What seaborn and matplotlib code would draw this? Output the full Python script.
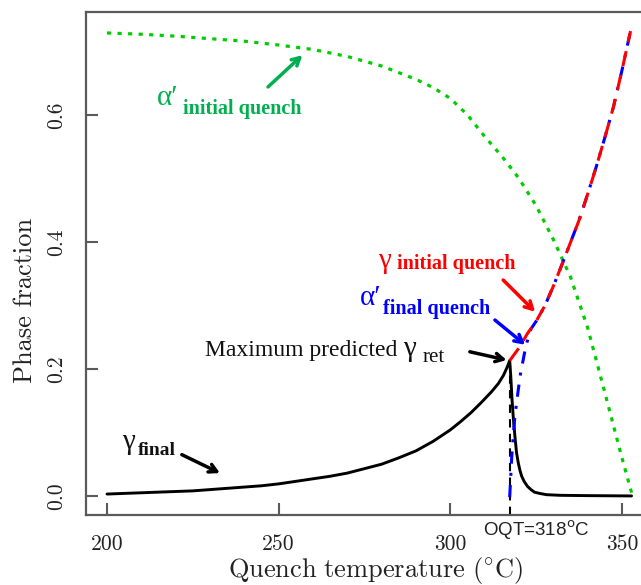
import matplotlib
matplotlib.use("Agg")
import matplotlib.pyplot as plt
import seaborn as sns
import pandas as pd

# ---------------- data ----------------
gfin_x = [200, 205, 210, 215, 220, 225, 230, 235, 240, 245, 250, 255, 260, 265,
          270, 275, 280, 285, 290, 295, 300, 303, 306, 309, 312, 314, 315.5,
          316.5, 317.3, 317.6, 318.0, 318.4, 318.8, 319.3, 319.8, 320.3, 320.8,
          321.5, 322.5, 323.5, 324.5, 326, 328, 332, 340, 352.8]
gfin_y = [0.003, 0.004, 0.005, 0.006, 0.007, 0.008, 0.010, 0.012, 0.014, 0.016,
          0.019, 0.023, 0.027, 0.031, 0.036, 0.043, 0.050, 0.060, 0.071, 0.086,
          0.104, 0.117, 0.131, 0.147, 0.164, 0.177, 0.190, 0.202, 0.213, 0.190,
          0.150, 0.120, 0.095, 0.068, 0.052, 0.040, 0.031, 0.023, 0.015, 0.010,
          0.006, 0.004, 0.002, 0.001, 0.0005, 0.0]

alpha_init_x = [200, 210, 220, 230, 240, 250, 260, 270, 280, 290, 295, 300, 305,
                310, 315, 320, 325, 330, 335, 340, 345, 350, 352.8]
alpha_init_y = [0.729, 0.727, 0.724, 0.720, 0.716, 0.710, 0.703, 0.692, 0.677,
                0.656, 0.643, 0.626, 0.600, 0.566, 0.535, 0.500, 0.457, 0.404,
                0.345, 0.265, 0.163, 0.060, 0.005]

gamma_init_x = [317.3, 320, 322.5, 325, 327.5, 330, 332.5, 335, 337.5, 340,
                342.5, 345, 347.5, 350, 352.5]
gamma_init_y = [0.213, 0.233, 0.256, 0.275, 0.299, 0.330, 0.364, 0.399, 0.434,
                0.475, 0.518, 0.564, 0.612, 0.670, 0.732]

alpha_fin_x = [317.3, 317.9, 318.8, 320.3, 322.0, 323.5, 325, 327.5, 330, 332.5,
               335, 337.5, 340, 342.5, 345, 347.5, 350, 352.5]
alpha_fin_y = [-0.002, 0.062, 0.125, 0.188, 0.236, 0.263, 0.275, 0.299, 0.330,
               0.364, 0.399, 0.434, 0.475, 0.518, 0.564, 0.612, 0.670, 0.732]

oqt = 317.3
oqt_line_y = [-0.030, 0.213]

x_ticks = [200, 250, 300, 350]
y_ticks = [0.0, 0.2, 0.4, 0.6]
x_ticklabels = ["200", "250", "300", "350"]
y_ticklabels = ["0.0", "0.2", "0.4", "0.6"]

# ---------------- figure ----------------
sns.set_style("white")
W, H = 641, 585
fig = plt.figure(figsize=(W / 100, H / 100), dpi=100)
ax = fig.add_axes([86 / W, 70 / H, 1 - 86 / W, (515 - 12) / H])

GREEN_LINE = "#00cd00"
GREEN_TXT = "#00b050"
RED = "#ff0000"
BLUE = "#0000ff"

df_gf = pd.DataFrame({"x": gfin_x, "y": gfin_y})
df_ai = pd.DataFrame({"x": alpha_init_x, "y": alpha_init_y})
df_gi = pd.DataFrame({"x": gamma_init_x, "y": gamma_init_y})
df_af = pd.DataFrame({"x": alpha_fin_x, "y": alpha_fin_y})
df_v = pd.DataFrame({"x": [oqt, oqt], "y": oqt_line_y})

sns.lineplot(data=df_v, x="x", y="y", ax=ax, sort=False, estimator=None,
             color="black", lw=1.5, linestyle=(0, (4, 3)))
sns.lineplot(data=df_ai, x="x", y="y", ax=ax, sort=False, estimator=None,
             color=GREEN_LINE, lw=2.3, linestyle=(0, (1.3, 2.0)))
sns.lineplot(data=df_gf, x="x", y="y", ax=ax, sort=False, estimator=None,
             color="black", lw=2.1, solid_joinstyle="round")
sns.lineplot(data=df_af, x="x", y="y", ax=ax, sort=False, estimator=None,
             color=BLUE, lw=2.2, linestyle=(4, (1, 3, 4, 3)))
sns.lineplot(data=df_gi, x="x", y="y", ax=ax, sort=False, estimator=None,
             color=RED, lw=2.2, linestyle=(0, (5, 3)))

ax.set_xlim(193.88, 355.55)
ax.set_ylim(-0.030, 0.762)

ax.set_xticks(x_ticks)
ax.set_xticklabels(x_ticklabels, fontfamily="cmr10", fontsize=15.5)
ax.set_yticks(y_ticks)
ax.set_yticklabels(y_ticklabels, fontfamily="cmr10", fontsize=15.5,
                   rotation=90, va="center")
ax.tick_params(bottom=True, left=True, top=False, right=False,
               direction="in", length=8.5, width=1.5, color="#5a5a5a", pad=14,
               labelcolor="#222222")
for s in ["left", "bottom", "top"]:
    ax.spines[s].set_color("#5a5a5a")
    ax.spines[s].set_linewidth(1.6)
ax.spines["right"].set_visible(False)
ax.set_xlabel("")
ax.set_ylabel("")

plt.rcParams["mathtext.fontset"] = "cm"
fig.text(376 / W, 1 - 570 / H, r"$\mathrm{Quench\ temperature\ (^{\circ}C)}$",
         ha="center", va="center", fontsize=19, color="#222222")
fig.text(25 / W, 1 - 300 / H, "Phase fraction", family="cmr10", rotation=90,
         ha="center", va="center", fontsize=19, color="#222222")

SERIF = ["Liberation Serif", "DejaVu Serif"]

def lbl(x, y, s, color, size, weight="normal"):
    ax.text(x, y, s, color=color, fontsize=size, family=SERIF, weight=weight,
            ha="left", va="baseline", clip_on=False)

def arrow(tail, head, color):
    ax.annotate("", xy=head, xytext=tail,
                arrowprops=dict(arrowstyle="->,head_length=0.55,head_width=0.3",
                                lw=2.5, color=color, shrinkA=0, shrinkB=0))

# alpha' initial quench
lbl(214.6, 0.616, "α′", GREEN_TXT, 21)
lbl(222.1, 0.602, "initial quench", GREEN_TXT, 14.5, "bold")
arrow((246.9, 0.644), (256.9, 0.694), GREEN_TXT)

# gamma initial quench
lbl(278.9, 0.359, "γ", RED, 21)
lbl(284.5, 0.357, "initial quench", RED, 14.5, "bold")
arrow((315.4, 0.340), (324.7, 0.290), RED)

# alpha' final quench
lbl(273.7, 0.301, "α′", BLUE, 21)
lbl(280.4, 0.287, "final quench", BLUE, 14.5, "bold")
arrow((313.0, 0.277), (321.8, 0.238), BLUE)

# maximum predicted gamma_ret
lbl(228.5, 0.220, "Maximum predicted", "#111111", 17)
lbl(286.2, 0.220, "γ", "#111111", 21)
lbl(292.0, 0.211, "ret", "#111111", 15)
arrow((305.7, 0.227), (316.4, 0.214), "black")

# gamma final
lbl(204.4, 0.074, "γ", "#111111", 21)
lbl(209.0, 0.0646, "final", "#111111", 14, "bold")
arrow((221.8, 0.065), (232.9, 0.036), "black")

# OQT label
ax.text(325.0, -0.054, r"OQT=318$^{\mathrm{o}}$C", family="Liberation Sans",
        math_fontfamily="dejavusans", fontsize=13.5, color="#222222",
        ha="center", va="center", clip_on=False)

fig.savefig("out.png", dpi=100)
